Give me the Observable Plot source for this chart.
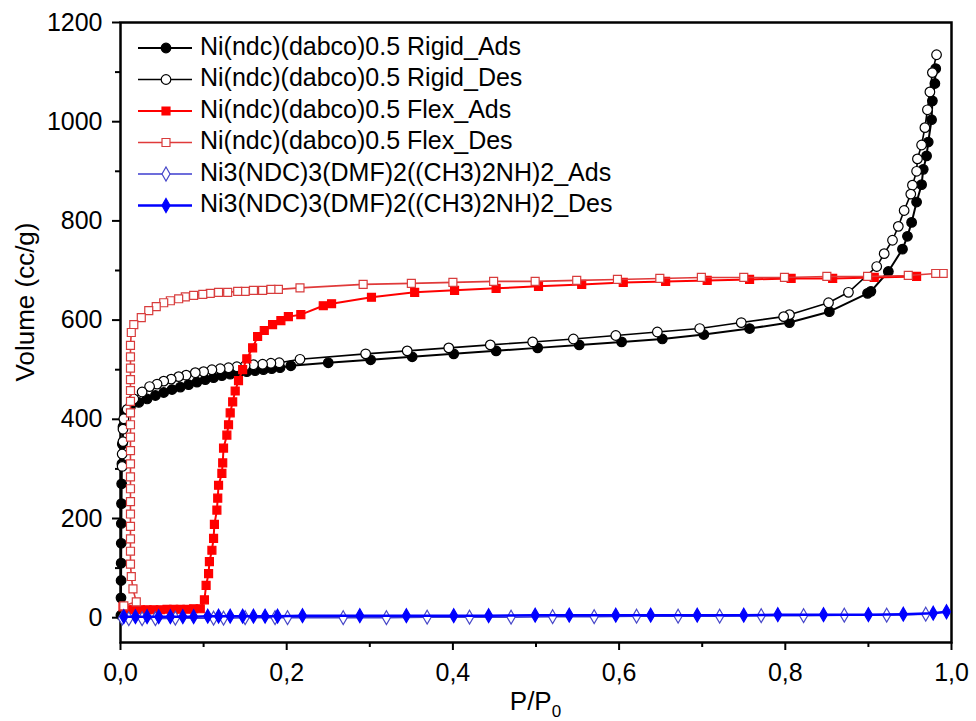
<!DOCTYPE html>
<html><head><meta charset="utf-8">
<script src="https://cdn.jsdelivr.net/npm/d3@7"></script>
<script src="https://cdn.jsdelivr.net/npm/@observablehq/plot@0.6"></script>
<style>
html,body{margin:0;padding:0;background:#fff;overflow:hidden;}
#chart{width:976px;height:721px;}
svg{display:block;font-family:"Liberation Sans",Arial,sans-serif;}
</style>
</head><body><div id="chart"></div>
<script>
// ---- data ----
const seriesNames = [
  "Ni(ndc)(dabco)0.5 Rigid_Ads",
  "Ni(ndc)(dabco)0.5 Rigid_Des",
  "Ni(ndc)(dabco)0.5 Flex_Ads",
  "Ni(ndc)(dabco)0.5 Flex_Des",
  "Ni3(NDC)3(DMF)2((CH3)2NH)2_Ads",
  "Ni3(NDC)3(DMF)2((CH3)2NH)2_Des"
];
const xDomain = [0, 1];
const yDomain = [-50, 1200];
const xTicks = [0, 0.2, 0.4, 0.6, 0.8, 1.0];
const xMinorTicks = [0.1, 0.3, 0.5, 0.7, 0.9];
const yTicks = [0, 200, 400, 600, 800, 1000, 1200];
const yMinorTicks = [100, 300, 500, 700, 900, 1100];

const rigidAds = [[0.0005,5],[0.0006,40],[0.0007,75],[0.0008,110],[0.0009,150],[0.001,190],[0.0012,230],[0.0014,270],[0.0017,310],[0.0022,350],[0.003,385],[0.006,415],[0.012,426],[0.022,434],[0.032,441],[0.042,448],[0.052,454],[0.062,460],[0.072,465],[0.082,470],[0.092,475],[0.102,480],[0.112,484],[0.122,488],[0.132,491],[0.142,494],[0.152,496],[0.162,498],[0.172,500],[0.182,502],[0.192,504],[0.205,508],[0.250,514],[0.301,520],[0.351,526],[0.401,532],[0.452,538],[0.502,544],[0.552,550],[0.603,556],[0.652,562],[0.702,571],[0.757,583],[0.805,595],[0.853,617],[0.899,654],[0.903,658],[0.924,698],[0.941,743],[0.947,769],[0.952,797],[0.958,838],[0.964,873],[0.966,904],[0.970,931],[0.972,959],[0.976,1004],[0.977,1042],[0.980,1077],[0.981,1107]];

const rigidDes = [[0.982,1135],[0.977,1099],[0.974,1060],[0.971,1024],[0.968,988],[0.964,953],[0.959,925],[0.958,900],[0.953,872],[0.951,854],[0.943,821],[0.936,789],[0.929,761],[0.919,734],[0.910,708],[0.876,656],[0.852,635],[0.805,611],[0.798,607],[0.747,595],[0.697,583],[0.646,576],[0.596,569],[0.545,562],[0.496,556],[0.445,550],[0.395,544],[0.345,538],[0.295,532],[0.216,521],[0.191,514],[0.181,513],[0.171,511],[0.160,510],[0.150,508],[0.140,506],[0.130,504],[0.120,502],[0.110,500],[0.100,496],[0.090,494],[0.079,489],[0.070,486],[0.061,481],[0.052,477],[0.044,471],[0.035,466],[0.026,455],[0.016,441],[0.008,420],[0.004,401],[0.003,380],[0.003,355],[0.002,330],[0.002,305]];

const flexAds = [[0.003,22],[0.008,16],[0.016,16],[0.024,16],[0.032,16],[0.040,16],[0.048,16],[0.056,17],[0.064,17],[0.072,17],[0.080,17],[0.088,18],[0.096,18],[0.101,36],[0.103,65],[0.106,89],[0.107,113],[0.110,136],[0.112,160],[0.113,188],[0.116,217],[0.117,241],[0.118,267],[0.122,291],[0.123,312],[0.124,342],[0.128,368],[0.130,389],[0.132,413],[0.135,435],[0.138,457],[0.142,478],[0.147,500],[0.152,522],[0.159,544],[0.165,567],[0.173,579],[0.183,591],[0.193,599],[0.202,607],[0.217,611],[0.244,629],[0.254,633],[0.302,646],[0.354,656],[0.402,660],[0.452,664],[0.503,668],[0.555,672],[0.605,676],[0.656,678],[0.706,680],[0.757,682],[0.807,684],[0.857,684],[0.907,686],[0.958,688]];

const flexDes = [[0.990,694],[0.981,694],[0.948,690],[0.899,688],[0.850,688],[0.799,686],[0.750,686],[0.699,686],[0.649,684],[0.598,682],[0.549,680],[0.499,678],[0.449,678],[0.400,676],[0.350,674],[0.292,672],[0.216,665],[0.190,662],[0.181,662],[0.171,660],[0.160,660],[0.150,658],[0.141,658],[0.129,656],[0.118,656],[0.108,654],[0.099,652],[0.088,650],[0.078,647],[0.070,643],[0.060,639],[0.052,635],[0.043,627],[0.034,619],[0.025,605],[0.016,591],[0.013,575],[0.012,549],[0.012,526],[0.012,503],[0.012,480],[0.012,458],[0.012,436],[0.012,413],[0.012,389],[0.012,364],[0.012,337],[0.012,310],[0.012,284],[0.012,260],[0.012,234],[0.012,209],[0.012,184],[0.012,159],[0.012,134],[0.012,108],[0.013,83],[0.015,58],[0.019,32],[0.004,24]];

const ni3Ads = [[0.002,-1],[0.010,-2],[0.026,-2],[0.042,-2],[0.066,-1],[0.112,-1],[0.124,-1],[0.150,0],[0.186,0],[0.201,0],[0.268,0],[0.320,0],[0.369,1],[0.420,1],[0.470,1],[0.520,2],[0.570,2],[0.621,3],[0.671,3],[0.721,3],[0.771,4],[0.822,4],[0.871,5],[0.922,5],[0.969,7]];

const ni3Des = [[0.994,12],[0.978,9],[0.942,7],[0.900,6],[0.846,6],[0.791,6],[0.750,5],[0.694,5],[0.638,5],[0.596,5],[0.540,5],[0.499,5],[0.443,4],[0.401,4],[0.344,4],[0.288,4],[0.219,4],[0.189,3],[0.174,3],[0.160,3],[0.147,3],[0.132,3],[0.118,3],[0.105,3],[0.088,2],[0.075,2],[0.060,2],[0.046,2],[0.032,2],[0.018,2],[0.004,2]];

// ---- styles ----
const series = [
  {name: seriesNames[0], data: rigidAds, line: "#000000", lw: 2, symbol: "circle", d3sym: d3.symbolCircle, fill: "#000000", stroke: "#000000", r: 4.8},
  {name: seriesNames[1], data: rigidDes, line: "#000000", lw: 1.6, symbol: "circle", d3sym: d3.symbolCircle, fill: "#ffffff", stroke: "#000000", r: 4.8},
  {name: seriesNames[2], data: flexAds, line: "#ff0000", lw: 2, symbol: "square", d3sym: d3.symbolSquare, fill: "#ff0000", stroke: "#ff0000", r: 4.5},
  {name: seriesNames[3], data: flexDes, line: "#e03a3a", lw: 1.6, symbol: "square", d3sym: d3.symbolSquare, fill: "#ffffff", stroke: "#d83c3c", r: 4.5},
  {name: seriesNames[4], data: ni3Ads, line: "#3c3ccf", lw: 1.6, symbol: "diamond", d3sym: d3.symbolDiamond, fill: "#ffffff", stroke: "#4646c8", r: 4.2},
  {name: seriesNames[5], data: ni3Des, line: "#0000ff", lw: 2.4, symbol: "diamond", d3sym: d3.symbolDiamond, fill: "#0000ff", stroke: "#0000ff", r: 4.2}
];

const W = 976, H = 721;
const fmtX = d => d.toFixed(1).replace(".", ",");

const marks = [
  Plot.frame({stroke: "#000", strokeWidth: 2.5}),
  Plot.axisX({ticks: xTicks, tickSize: 8, tickPadding: 13, tickFormat: fmtX, fontSize: 25, strokeWidth: 2, label: null, fill: "#000"}),
  Plot.axisX({ticks: xMinorTicks, tickSize: 5, tickFormat: () => "", strokeWidth: 2, label: null}),
  Plot.axisY({ticks: yTicks, tickSize: 8, tickPadding: 10, tickFormat: d3.format("d"), fontSize: 25, strokeWidth: 2, label: null, fill: "#000"}),
  Plot.axisY({ticks: yMinorTicks, tickSize: 5, tickFormat: () => "", strokeWidth: 2, label: null})
];
for (const s of series) {
  marks.push(Plot.line(s.data, {x: d => d[0], y: d => d[1], stroke: s.line, strokeWidth: s.lw}));
  marks.push(Plot.dot(s.data, {x: d => d[0], y: d => d[1], symbol: () => s.symbol, r: s.r, fill: s.fill, stroke: s.stroke, strokeWidth: 1.2}));
}

const plot = Plot.plot({
  width: W, height: H,
  marginLeft: 120, marginRight: 25, marginTop: 22, marginBottom: 79,
  x: {domain: xDomain, axis: null},
  y: {domain: yDomain, axis: null},
  symbol: {type: "identity"},
  style: {background: "#fff", color: "#000", fontFamily: "'Liberation Sans', Arial, sans-serif"},
  marks
});

const svg = d3.select(plot);
const sx = plot.scale("x"), sy = plot.scale("y");
const fx0 = sx.apply(xDomain[0]), fx1 = sx.apply(xDomain[1]);
const fy0 = sy.apply(yDomain[1]), fy1 = sy.apply(yDomain[0]);

// axis titles
svg.append("text")
  .attr("transform", `translate(27,${(fy0 + fy1) / 2 - 30}) rotate(-90)`)
  .attr("text-anchor", "middle").attr("dominant-baseline", "middle")
  .attr("font-size", 26).attr("fill", "#000")
  .text("Volume (cc/g)");
const xt = svg.append("text")
  .attr("x", (fx0 + fx1) / 2).attr("y", 710)
  .attr("text-anchor", "middle").attr("font-size", 26).attr("fill", "#000");
xt.append("tspan").text("P/P");
xt.append("tspan").attr("font-size", 17).attr("dy", 7).text("0");

// legend
const lg = svg.append("g").attr("text-anchor", "start");
series.forEach((s, i) => {
  const yy = 48 + i * 31.5;
  lg.append("line").attr("x1", 138).attr("x2", 192).attr("y1", yy).attr("y2", yy)
    .attr("stroke", s.line).attr("stroke-width", s.lw);
  lg.append("path").attr("transform", `translate(166,${yy})`)
    .attr("d", d3.symbol(s.d3sym, Math.PI * s.r * s.r)())
    .attr("fill", s.fill).attr("stroke", s.stroke).attr("stroke-width", 1.2);
  lg.append("text").attr("x", 200).attr("y", yy).attr("dominant-baseline", "middle")
    .attr("text-anchor", "start")
    .attr("font-size", 25).attr("fill", "#000").text(s.name);
});

document.getElementById("chart").appendChild(plot);
</script>
</body></html>
